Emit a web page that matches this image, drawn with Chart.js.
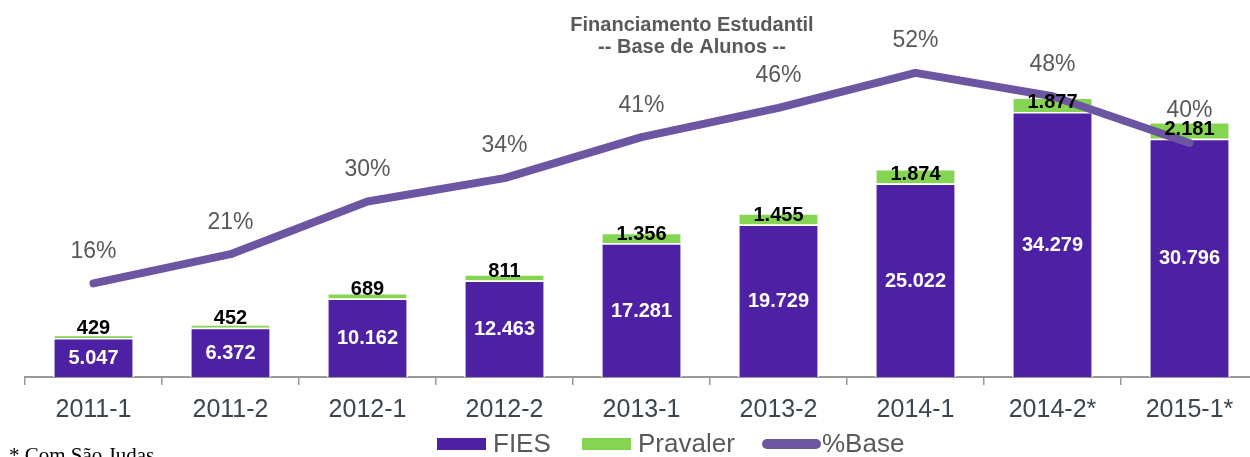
<!DOCTYPE html>
<html>
<head>
<meta charset="utf-8">
<script src="https://cdn.jsdelivr.net/npm/chart.js@4/dist/chart.umd.min.js"></script>
<style>
    html, body { margin: 0; padding: 0; background: #fff; overflow: hidden; }
    #wrap { position: relative; width: 1262px; height: 457px; }
</style>
</head>
<body>
<div id="wrap"><canvas id="chart"></canvas></div>
<script>
const periods = ["2011-1", "2011-2", "2012-1", "2012-2", "2013-1", "2013-2", "2014-1", "2014-2*", "2015-1*"];
const fies = [5047, 6372, 10162, 12463, 17281, 19729, 25022, 34279, 30796];
const pravaler = [429, 452, 689, 811, 1356, 1455, 1874, 1877, 2181];
const pctBase = [16, 21, 30, 34, 41, 46, 52, 48, 40];

const FONT = "'Liberation Sans', Arial, sans-serif";
const purple = "#4e20a4";
const green = "#86d552";
const linePurple = "#6c55a1";
const gray = "#595959";

function fmt(n) {
    return String(n).replace(/\B(?=(\d{3})+(?!\d))/g, ".");
}

// labels, title, legend and footnote
const extras = {
    id: "extras",
    afterDatasetsDraw(c) {
        const ctx = c.ctx;
        const fiesMeta = c.getDatasetMeta(0);
        const pravMeta = c.getDatasetMeta(1);
        const lineMeta = c.getDatasetMeta(2);
        ctx.save();
        ctx.textAlign = "center";

        fiesMeta.data.forEach((bar, i) => {
            ctx.fillStyle = "#fff";
            ctx.font = "bold 20px " + FONT;
            ctx.textBaseline = "middle";
            ctx.fillText(fmt(fies[i]), bar.x, (bar.y + bar.base) / 2 + 1);

            const pb = pravMeta.data[i];
            ctx.fillStyle = "#000";
            ctx.font = "bold 20px " + FONT;
            ctx.textBaseline = "bottom";
            ctx.fillText(fmt(pravaler[i]), pb.x, pb.base + 1);
        });

        lineMeta.data.forEach((pt, i) => {
            ctx.fillStyle = gray;
            ctx.font = "23px " + FONT;
            ctx.textBaseline = "middle";
            ctx.fillText(pctBase[i] + "%", pt.x, pt.y - 32);
        });

        // title
        ctx.fillStyle = gray;
        ctx.font = "bold 20px " + FONT;
        ctx.fillText("Financiamento Estudantil", 692, 25);
        ctx.fillText("-- Base de Alunos --", 692, 47);

        // legend
        ctx.textAlign = "left";
        ctx.font = "26px " + FONT;
        const ly = 444;
        ctx.fillStyle = purple;
        ctx.fillRect(437, ly - 6, 49, 12);
        ctx.fillStyle = gray;
        ctx.fillText("FIES", 493, ly + 1);
        ctx.fillStyle = green;
        ctx.fillRect(582, ly - 6, 49, 12);
        ctx.fillStyle = gray;
        ctx.fillText("Pravaler", 638, ly + 1);
        ctx.strokeStyle = linePurple;
        ctx.lineWidth = 10;
        ctx.lineCap = "round";
        ctx.beginPath();
        ctx.moveTo(767, ly);
        ctx.lineTo(816, ly);
        ctx.stroke();
        ctx.fillStyle = gray;
        ctx.fillText("%Base", 822, ly + 1);

        // footnote
        ctx.fillStyle = "#000";
        ctx.font = "21px 'Liberation Serif', 'Times New Roman', serif";
        ctx.textBaseline = "alphabetic";
        ctx.fillText("* Com São Judas", 9, 462);
        ctx.restore();
    }
};

new Chart(document.getElementById("chart"), {
    data: {
        labels: periods,
        datasets: [
            {
                type: "bar",
                label: "FIES",
                data: fies,
                backgroundColor: purple,
                borderColor: "#fff",
                borderWidth: 1.5,
                yAxisID: "y",
                order: 2
            },
            {
                type: "bar",
                label: "Pravaler",
                data: pravaler,
                backgroundColor: green,
                borderColor: "#fff",
                borderWidth: 1.5,
                yAxisID: "y",
                order: 2
            },
            {
                type: "line",
                label: "%Base",
                data: pctBase,
                borderColor: linePurple,
                borderWidth: 8,
                borderCapStyle: "round",
                borderJoinStyle: "round",
                pointRadius: 0,
                tension: 0,
                yAxisID: "y1",
                order: 1
            }
        ]
    },
    options: {
        responsive: true,
        maintainAspectRatio: false,
        animation: false,
        categoryPercentage: 1,
        barPercentage: 0.59,
        layout: { padding: { top: 29, left: 25, right: 4, bottom: 22 } },
        plugins: {
            legend: { display: false },
            tooltip: { enabled: false }
        },
        scales: {
            x: {
                stacked: true,
                grid: {
                    offset: true,
                    drawOnChartArea: false,
                    drawTicks: true,
                    tickLength: 8,
                    color: "#999",
                    lineWidth: 1.5
                },
                border: { display: true, color: "#999", width: 2 },
                ticks: {
                    padding: 10,
                    color: "#3c4650",
                    font: { family: FONT, size: 25 },
                    maxRotation: 0,
                    autoSkip: false
                }
            },
            y: {
                stacked: true,
                display: false,
                min: 0,
                max: 45000
            },
            y1: {
                display: false,
                min: 0,
                max: 59.5
            }
        }
    },
    plugins: [extras]
});
</script>
</body>
</html>
